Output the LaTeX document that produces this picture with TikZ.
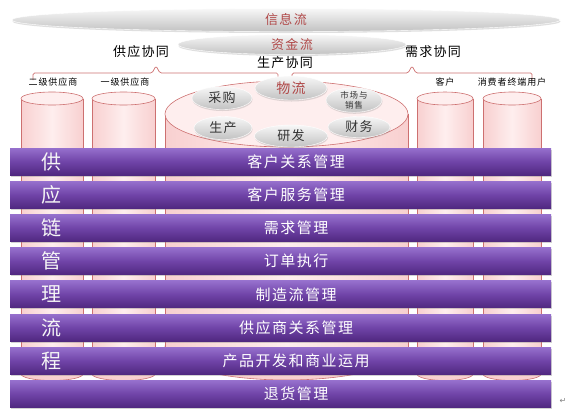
\documentclass[tikz,border=0pt]{standalone}
\usepackage{fontspec}
\setmainfont{Noto Sans CJK SC}[LetterSpace=10]
\newfontfamily\symfont{DejaVu Sans}
\usetikzlibrary{shapes.geometric,shadows}
\definecolor{flowred}{RGB}{176,72,72}
\definecolor{siloline}{RGB}{205,112,112}
\definecolor{silomid}{RGB}{254,238,238}
\definecolor{siloedge}{RGB}{248,208,208}
\definecolor{bartop}{RGB}{150,112,205}
\definecolor{barmid}{RGB}{112,68,168}
\definecolor{barbot}{RGB}{80,40,128}
\tikzset{
  flow/.style={ellipse, inner sep=0pt, top color=gray!6, bottom color=gray!48, draw=white,
    text=flowred, font=\fontsize{13}{13}\selectfont,
    drop shadow={opacity=.25, shadow xshift=.5pt, shadow yshift=-1.5pt}},
  bubble/.style={flow, text=black!80},
  team/.style={font=\fontsize{13}{13}\selectfont},
  party/.style={font=\fontsize{9}{9}\selectfont},
  brace/.style={draw=siloline, line width=.7pt, rounded corners=1.5pt},
  silobase/.style={ellipse, inner sep=0pt, fill=siloedge, draw=siloline, line width=.6pt},
  silobody/.style={left color=siloedge, right color=siloedge, middle color=silomid},
  siloside/.style={draw=siloline, line width=.6pt},
  silotop/.style={ellipse, inner sep=0pt, fill=silomid, draw=siloline, line width=.6pt},
  bar/.style={rectangle, inner sep=0pt, minimum width=541pt, minimum height=27pt,
    top color=bartop, bottom color=barbot, middle color=barmid,
    drop shadow={opacity=.35, shadow xshift=1pt, shadow yshift=-1.5pt}},
  bartext/.style={text=white, font=\fontsize{15}{15}\selectfont},
  sidechar/.style={text=white!92!gray, font=\fontsize{20}{20}\selectfont}
}
\begin{document}
\begin{tikzpicture}[x=1pt, y=-1pt]
  \useasboundingbox (0,0) rectangle (569,416);

  % flows on top
  \node[flow, minimum width=548pt, minimum height=23pt] (info) at (286,20) {信息流};
  \node[flow, minimum width=228pt, minimum height=20pt] (fund) at (292,44.5) {资金流};

  \node[team] (supply) at (141,52) {供应协同};
  \node[team] (make) at (285,62.5) {生产协同};
  \node[team] (demand) at (433,52) {需求协同};

  \draw[brace] (33,80) -- (33,73) -- (152,73) -- (156,66) -- (160,73) -- (278,73) -- (278,80);
  \draw[brace] (292,80) -- (292,73) -- (408,73) -- (412,66) -- (416,73) -- (532,73) -- (532,80);

  \node[party] (l2) at (53,82) {二级供应商};
  \node[party] (l1) at (125,82) {一级供应商};
  \node[party] (lc) at (445,82) {客户};
  \node[party] (lu) at (512,82) {消费者终端用户};

  % silos
  \node[silobase, minimum width=62pt, minimum height=13pt] (s2b) at (52,374) {};
  \path[silobody] (21,98.5) rectangle (83,374);
  \draw[siloside] (21,98.5) -- (21,374) (83,98.5) -- (83,374);
  \node[silotop, minimum width=62pt, minimum height=13pt] (s2) at (52,98.5) {};

  \node[silobase, minimum width=63pt, minimum height=13pt] (s1b) at (123.5,374) {};
  \path[silobody] (92,98.5) rectangle (155,374);
  \draw[siloside] (92,98.5) -- (92,374) (155,98.5) -- (155,374);
  \node[silotop, minimum width=63pt, minimum height=13pt] (s1) at (123.5,98.5) {};

  \node[silobase, minimum width=56pt, minimum height=13pt] (scb) at (445,374) {};
  \path[silobody] (417,98.5) rectangle (473,374);
  \draw[siloside] (417,98.5) -- (417,374) (473,98.5) -- (473,374);
  \node[silotop, minimum width=56pt, minimum height=13pt] (sc) at (445,98.5) {};

  \node[silobase, minimum width=58pt, minimum height=13pt] (sub) at (512,374) {};
  \path[silobody] (483,98.5) rectangle (541,374);
  \draw[siloside] (483,98.5) -- (483,374) (541,98.5) -- (541,374);
  \node[silotop, minimum width=58pt, minimum height=13pt] (su) at (512,98.5) {};

  \node[silobase, minimum width=243pt, minimum height=66pt] (firmb) at (286.5,347) {};
  \path[silobody] (165,114) rectangle (408,347);
  \draw[siloside] (165,114) -- (165,347) (408,114) -- (408,347);
  \node[silotop, minimum width=243pt, minimum height=66pt] (firm) at (286.5,114) {};

  % functions inside the firm
  \node[bubble, minimum width=60pt, minimum height=23pt] (buy) at (222,98) {采购};
  \node[bubble, text=flowred, font=\fontsize{14}{14}\selectfont, minimum width=72pt, minimum height=24pt] (logi) at (291,88) {物流};
  \node[bubble, align=center, font=\fontsize{8.5}{9.5}\selectfont, minimum width=56pt, minimum height=24pt] (mkt) at (354,100) {市场与\\销售};
  \node[bubble, minimum width=58pt, minimum height=23pt] (prod) at (223,128) {生产};
  \node[bubble, minimum width=73pt, minimum height=22pt] (rnd) at (291,136) {研发};
  \node[bubble, minimum width=62pt, minimum height=21pt] (fin) at (359,127) {财务};

  % processes
  \node[bar] (b1) at (280.5,161.5) {};
  \node[bar] (b2) at (280.5,194.7) {};
  \node[bar] (b3) at (280.5,227.9) {};
  \node[bar] (b4) at (280.5,261.1) {};
  \node[bar] (b5) at (280.5,294.3) {};
  \node[bar] (b6) at (280.5,327.5) {};
  \node[bar] (b7) at (280.5,360.7) {};
  \node[bar] (b8) at (280.5,393.9) {};

  \node[bartext] (t1) at ([xshift=15.5pt]b1.center) {客户关系管理};
  \node[bartext] (t2) at ([xshift=15.5pt]b2.center) {客户服务管理};
  \node[bartext] (t3) at ([xshift=15.5pt]b3.center) {需求管理};
  \node[bartext] (t4) at ([xshift=15.5pt]b4.center) {订单执行};
  \node[bartext] (t5) at ([xshift=15.5pt]b5.center) {制造流管理};
  \node[bartext] (t6) at ([xshift=15.5pt]b6.center) {供应商关系管理};
  \node[bartext] (t7) at ([xshift=15.5pt]b7.center) {产品开发和商业运用};
  \node[bartext] (t8) at ([xshift=15.5pt]b8.center) {退货管理};

  \node[sidechar] (c1) at ([xshift=42pt]b1.west) {供};
  \node[sidechar] (c2) at ([xshift=42pt]b2.west) {应};
  \node[sidechar] (c3) at ([xshift=42pt]b3.west) {链};
  \node[sidechar] (c4) at ([xshift=42pt]b4.west) {管};
  \node[sidechar] (c5) at ([xshift=42pt]b5.west) {理};
  \node[sidechar] (c6) at ([xshift=42pt]b6.west) {流};
  \node[sidechar] (c7) at ([xshift=42pt]b7.west) {程};

  \node[text=gray, font=\symfont\fontsize{8}{8}\selectfont] (para) at (563,401) {↵};
\end{tikzpicture}
\end{document}
